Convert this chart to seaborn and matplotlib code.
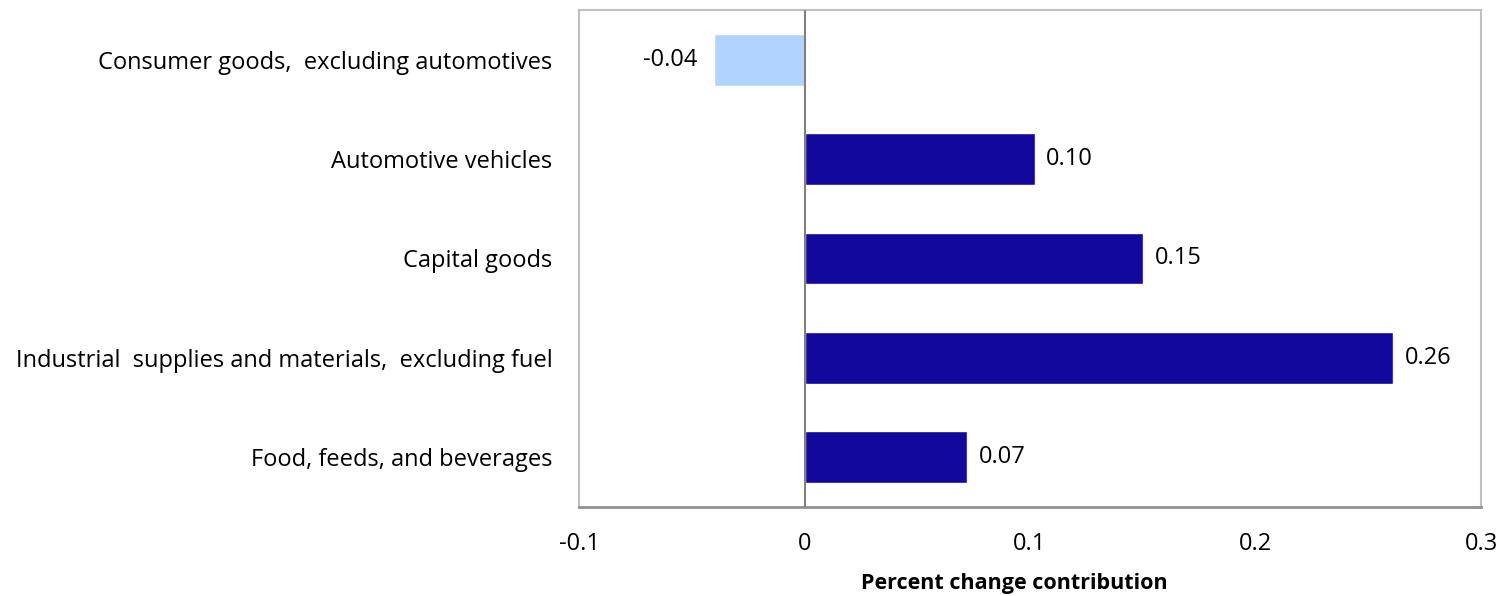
import matplotlib
matplotlib.use("Agg")
import matplotlib.pyplot as plt
import seaborn as sns
import pandas as pd

categories = [
    "Consumer goods,  excluding automotives",
    "Automotive vehicles",
    "Capital goods",
    "Industrial  supplies and materials,  excluding fuel",
    "Food, feeds, and beverages",
]
values = [-0.04, 0.102, 0.15, 0.261, 0.072]
value_labels = ["-0.04", "0.10", "0.15", "0.26", "0.07"]
xticks = [-0.1, 0, 0.1, 0.2, 0.3]
xtick_labels = ["-0.1", "0", "0.1", "0.2", "0.3"]

sns.set_theme(style="white")
plt.rcParams['font.family'] = ['Open Sans', 'DejaVu Sans']
plt.rcParams['text.color'] = 'black'
plt.rcParams['xtick.color'] = 'black'
plt.rcParams['ytick.color'] = 'black'
plt.rcParams['axes.labelcolor'] = 'black'

df = pd.DataFrame({"category": categories, "value": values})
colors = ["#B0D4FF" if v < 0 else "#13089E" for v in values]

fig = plt.figure(figsize=(15.12, 5.96), dpi=100)
ax = fig.add_axes([579/1512, 1 - 507/596, (1481-579)/1512, (507-10)/596])

sns.barplot(data=df, y="category", x="value", hue="category", palette=colors,
            legend=False, width=0.52, saturation=1, ax=ax, orient="h")

ax.set_xlim(-0.1, 0.3)
ax.set_ylim(4.5, -0.5)
ax.set_xticks(xticks)
ax.set_xticklabels(xtick_labels, fontsize=17)
ax.tick_params(axis="y", labelsize=17, pad=19, length=0)
ax.tick_params(axis="x", pad=18, length=0)
ax.set_ylabel("")
ax.set_xlabel("Percent change contribution", fontsize=15.5, fontweight="bold")
ax.xaxis.set_label_coords(0.483, -0.153)
ax.xaxis.label.set_va("center")

ax.axvline(0, color="#808080", lw=1.5, zorder=3)

for sp in ["top", "right", "left"]:
    ax.spines[sp].set_color("#C0C0C0")
    ax.spines[sp].set_linewidth(1.5)
ax.spines["bottom"].set_color("#909090")
ax.spines["bottom"].set_linewidth(2)

for i, (v, lab) in enumerate(zip(values, value_labels)):
    if v < 0:
        ax.annotate(lab, (v, i), xytext=(-12, 0), textcoords="offset points",
                    ha="right", va="center", fontsize=17, color="black")
    else:
        ax.annotate(lab, (v, i), xytext=(8.5, 0), textcoords="offset points",
                    ha="left", va="center", fontsize=17, color="black")

fig.savefig("out.png", dpi=100)
